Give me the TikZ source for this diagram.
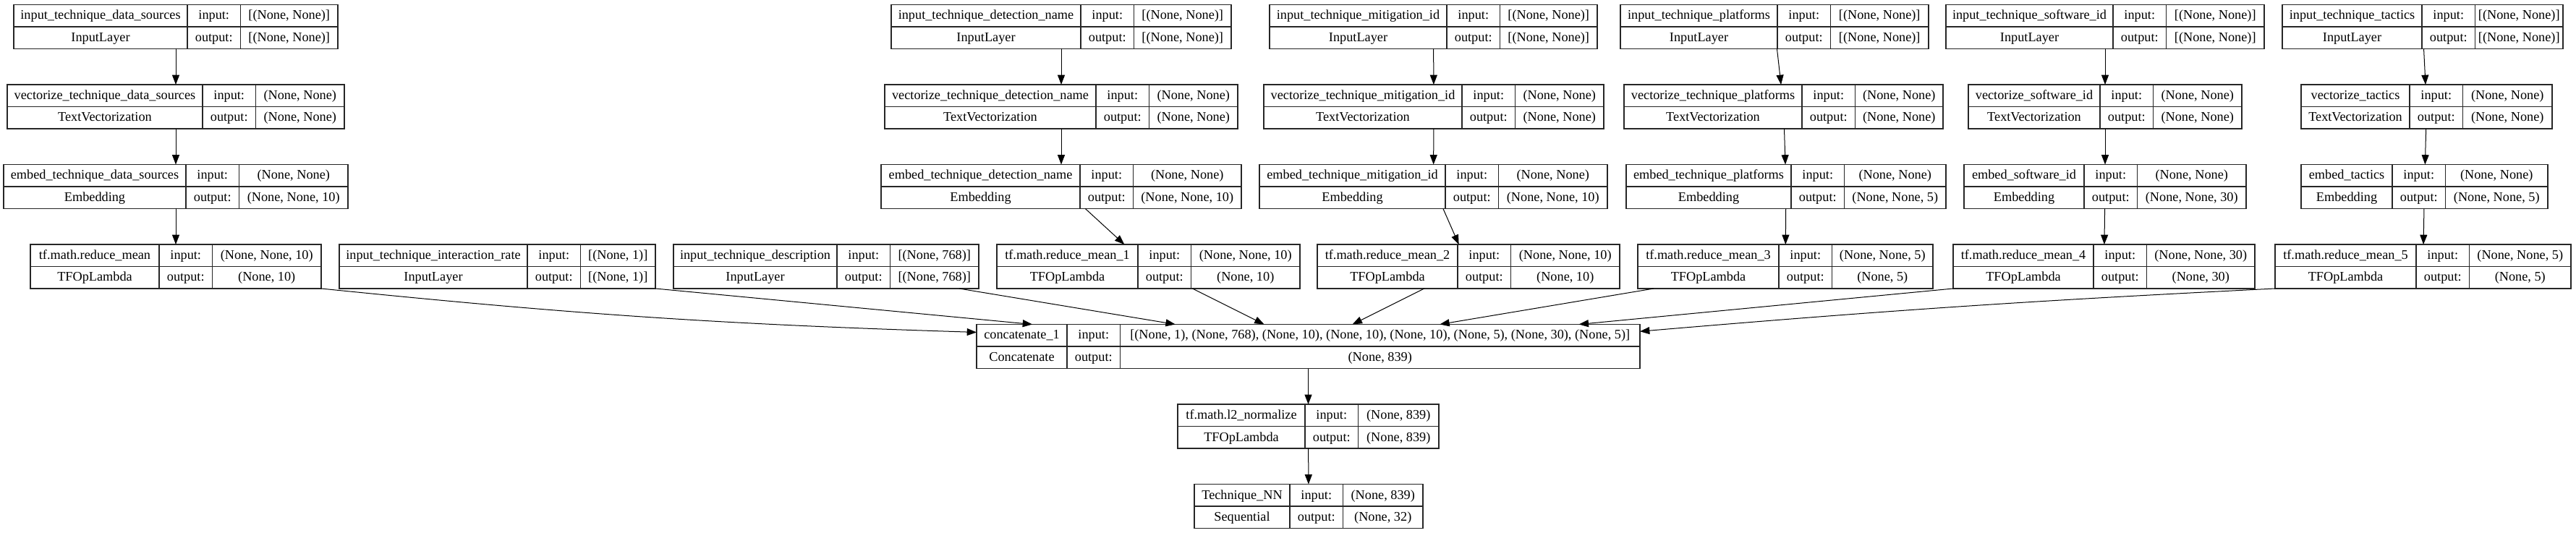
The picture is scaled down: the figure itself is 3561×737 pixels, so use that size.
\documentclass[tikz,border=0pt]{standalone}
\usepackage{fontspec}
\setmainfont{Liberation Serif}
\usetikzlibrary{arrows.meta}
\usetikzlibrary{calc}
\tikzset{box/.style={draw=black!85,line width=0.9pt,inner sep=0pt,outer sep=0pt,minimum height=61*0.75pt,anchor=north west}}
\tikzset{cell/.style={inner sep=0pt,anchor=base,font=\fontsize{13.7}{16}\selectfont}}
\tikzset{>={Triangle[length=10pt,width=7.5pt]}}

\newcommand{\layerbox}[9]{%
        \pgfmathsetmacro{\ly}{6.5+110.5*#2}
        \node[box,minimum width={(#5-#3)*0.75pt}] (#1) at (#3,\ly) {};
        \draw[black!85,line width=0.9pt] (#1.west) -- (#1.east);
        \draw[black!85,line width=0.9pt] (#4,\ly) -- ++(0,61) (#4+73.5,\ly) -- ++(0,61);
        \node[cell] (#1-name) at ({(#3+#4)/2},\ly+20.5) {#6};
        \node[cell] (#1-kind) at ({(#3+#4)/2},\ly+51) {#7};
        \node[cell] (#1-in) at (#4+36.75,\ly+20.5) {input:};
        \node[cell] (#1-out) at (#4+36.75,\ly+51) {output:};
        \node[cell] (#1-ishape) at ({(#4+73.5+#5)/2},\ly+20.5) {#8};
        \node[cell] (#1-oshape) at ({(#4+73.5+#5)/2},\ly+51) {#9};
}

\begin{document}
\begin{tikzpicture}[x=0.75pt,y=-0.75pt,line width=0.75pt]
        \useasboundingbox (0,0) rectangle (3561,737);

        \layerbox{in1}{0}{19}{259}{467}{input\_technique\_data\_sources}{InputLayer}{[(None, None)]}{[(None, None)]}
        \layerbox{in2}{0}{1232}{1494}{1702}{input\_technique\_detection\_name}{InputLayer}{[(None, None)]}{[(None, None)]}
        \layerbox{in3}{0}{1755}{2000}{2208}{input\_technique\_mitigation\_id}{InputLayer}{[(None, None)]}{[(None, None)]}
        \layerbox{in4}{0}{2240}{2457}{2666}{input\_technique\_platforms}{InputLayer}{[(None, None)]}{[(None, None)]}
        \layerbox{in5}{0}{2690}{2921}{3130}{input\_technique\_software\_id}{InputLayer}{[(None, None)]}{[(None, None)]}
        \layerbox{in6}{0}{3155}{3348}{3543}{input\_technique\_tactics}{InputLayer}{[(None, None)]}{[(None, None)]}

        \layerbox{vec1}{1}{10}{280}{476}{vectorize\_technique\_data\_sources}{TextVectorization}{(None, None)}{(None, None)}
        \layerbox{vec2}{1}{1223}{1515}{1711}{vectorize\_technique\_detection\_name}{TextVectorization}{(None, None)}{(None, None)}
        \layerbox{vec3}{1}{1747}{2021}{2217}{vectorize\_technique\_mitigation\_id}{TextVectorization}{(None, None)}{(None, None)}
        \layerbox{vec4}{1}{2245}{2491}{2686}{vectorize\_technique\_platforms}{TextVectorization}{(None, None)}{(None, None)}
        \layerbox{vec5}{1}{2721}{2903}{3099}{vectorize\_software\_id}{TextVectorization}{(None, None)}{(None, None)}
        \layerbox{vec6}{1}{3181}{3331}{3528}{vectorize\_tactics}{TextVectorization}{(None, None)}{(None, None)}

        \layerbox{emb1}{2}{5}{257}{481}{embed\_technique\_data\_sources}{Embedding}{(None, None)}{(None, None, 10)}
        \layerbox{emb2}{2}{1218}{1493}{1716}{embed\_technique\_detection\_name}{Embedding}{(None, None)}{(None, None, 10)}
        \layerbox{emb3}{2}{1741}{1998}{2222}{embed\_technique\_mitigation\_id}{Embedding}{(None, None)}{(None, None, 10)}
        \layerbox{emb4}{2}{2248}{2476}{2690}{embed\_technique\_platforms}{Embedding}{(None, None)}{(None, None, 5)}
        \layerbox{emb5}{2}{2715}{2881}{3105}{embed\_software\_id}{Embedding}{(None, None)}{(None, None, 30)}
        \layerbox{emb6}{2}{3181}{3307}{3522}{embed\_tactics}{Embedding}{(None, None)}{(None, None, 5)}

        \layerbox{mean0}{3}{42}{220}{444}{tf.math.reduce\_mean}{TFOpLambda}{(None, None, 10)}{(None, 10)}
        \layerbox{rate}{3}{469}{729}{906}{input\_technique\_interaction\_rate}{InputLayer}{[(None, 1)]}{[(None, 1)]}
        \layerbox{desc}{3}{931}{1157}{1353}{input\_technique\_description}{InputLayer}{[(None, 768)]}{[(None, 768)]}
        \layerbox{mean1}{3}{1378}{1573}{1797}{tf.math.reduce\_mean\_1}{TFOpLambda}{(None, None, 10)}{(None, 10)}
        \layerbox{mean2}{3}{1821}{2015}{2239}{tf.math.reduce\_mean\_2}{TFOpLambda}{(None, None, 10)}{(None, 10)}
        \layerbox{mean3}{3}{2264}{2459}{2672}{tf.math.reduce\_mean\_3}{TFOpLambda}{(None, None, 5)}{(None, 5)}
        \layerbox{mean4}{3}{2700}{2894}{3117}{tf.math.reduce\_mean\_4}{TFOpLambda}{(None, None, 30)}{(None, 30)}
        \layerbox{mean5}{3}{3145}{3340}{3554}{tf.math.reduce\_mean\_5}{TFOpLambda}{(None, None, 5)}{(None, 5)}

        \layerbox{cat}{4}{1350}{1475}{2267}{concatenate\_1}{Concatenate}{[(None, 1), (None, 768), (None, 10), (None, 10), (None, 10), (None, 5), (None, 30), (None, 5)]}{(None, 839)}
        \layerbox{norm}{5}{1628}{1804}{1989}{tf.math.l2\_normalize}{TFOpLambda}{(None, 839)}{(None, 839)}
        \layerbox{nn}{6}{1651}{1783}{1967}{Technique\_NN}{Sequential}{(None, 839)}{(None, 32)}

        \foreach \c/\m in {1/0,2/1,3/2,4/3,5/4,6/5} {
                \draw[->] (in\c) -- (vec\c);
                \draw[->] (vec\c) -- (emb\c);
                \draw[->] (emb\c) -- (mean\m);
        }

        \draw[->] (mean0.south east) to[bend right=2] ($(cat.north west)!0.18!(cat.south west)$);
        \draw[->] (rate.south east) -- ($(cat.north west)!0.084!(cat.north east)$);
        \draw[->] (desc) -- (cat);
        \draw[->] (mean1) -- (cat);
        \draw[->] (mean2) -- (cat);
        \draw[->] (mean3) -- (cat);
        \draw[->] (mean4.south west) -- ($(cat.north west)!0.908!(cat.north east)$);
        \draw[->] (mean5.south west) to[bend right=1] ($(cat.north east)!0.16!(cat.south east)$);
        \draw[->] (cat) -- (norm);
        \draw[->] (norm) -- (nn);
\end{tikzpicture}
\end{document}
